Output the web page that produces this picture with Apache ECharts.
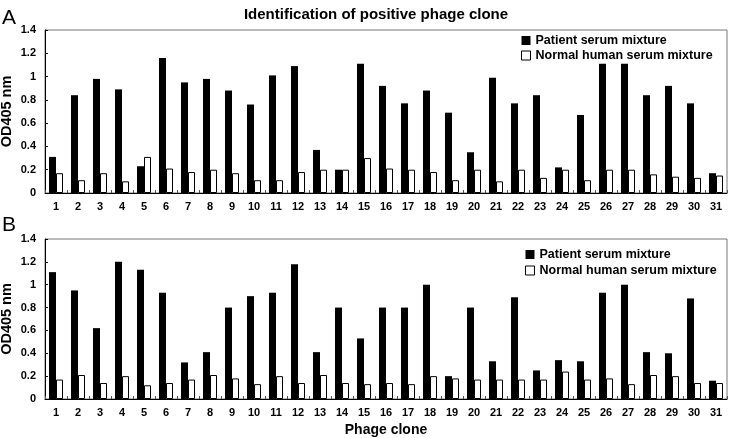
<!DOCTYPE html>
<html>
<head>
<meta charset="utf-8">
<script src="https://cdn.jsdelivr.net/npm/echarts@6/dist/echarts.min.js"></script>
<style>
html, body { margin: 0; padding: 0; background: #fff; }
#chart { width: 730px; height: 438px; }
</style>
</head>
<body>
<div id="chart"></div>
<script>
// 克隆编号
var clones = ['1','2','3','4','5','6','7','8','9','10','11','12','13','14','15','16','17','18','19','20','21','22','23','24','25','26','27','28','29','30','31'];

// panel A
var patientA = [0.31, 0.84, 0.98, 0.89, 0.23, 1.16, 0.95, 0.98, 0.88, 0.76, 1.01, 1.09, 0.37, 0.20, 1.11, 0.92, 0.77, 0.88, 0.69, 0.35, 0.99, 0.77, 0.84, 0.22, 0.67, 1.11, 1.11, 0.84, 0.92, 0.77, 0.17];
var normalA = [0.17, 0.11, 0.17, 0.10, 0.31, 0.21, 0.18, 0.20, 0.17, 0.11, 0.11, 0.18, 0.20, 0.20, 0.30, 0.21, 0.20, 0.18, 0.11, 0.20, 0.10, 0.20, 0.13, 0.20, 0.11, 0.20, 0.20, 0.16, 0.14, 0.13, 0.15];

// panel B
var patientB = [1.11, 0.95, 0.62, 1.20, 1.13, 0.93, 0.32, 0.41, 0.80, 0.90, 0.93, 1.18, 0.41, 0.80, 0.53, 0.80, 0.80, 1.00, 0.20, 0.80, 0.33, 0.89, 0.25, 0.34, 0.33, 0.93, 1.00, 0.41, 0.40, 0.88, 0.16];
var normalB = [0.17, 0.21, 0.14, 0.20, 0.12, 0.14, 0.17, 0.21, 0.18, 0.13, 0.20, 0.14, 0.21, 0.14, 0.13, 0.14, 0.13, 0.20, 0.18, 0.17, 0.17, 0.17, 0.17, 0.24, 0.17, 0.18, 0.13, 0.21, 0.20, 0.14, 0.14];

var yTicks = { min: 0, max: 1.4, interval: 0.2 };

var font = 'Liberation Sans, Arial, sans-serif';

function xAxisOf (grid, name) {
  return {
    type: 'category',
    gridIndex: grid,
    data: clones,
    name: name,
    nameLocation: 'middle',
    nameGap: 24,
    nameTextStyle: { fontFamily: font, fontWeight: 'bold', fontSize: 14, color: '#000' },
    axisLine: { lineStyle: { color: '#000', width: 1 } },
    axisTick: { show: true, inside: true, length: 3, lineStyle: { color: '#555' } },
    axisLabel: { fontFamily: font, fontWeight: 'bold', fontSize: 11, color: '#000', margin: 8, interval: 0 }
  }
}

function yAxisOf (grid) {
  return {
    type: 'value',
    gridIndex: grid,
    min: yTicks.min,
    max: yTicks.max,
    interval: yTicks.interval,
    name: 'OD405 nm',
    nameLocation: 'middle',
    nameGap: 31,
    nameMoveOverlap: false,
    nameRotate: 90,
    nameTextStyle: { fontFamily: font, fontWeight: 'bold', fontSize: 14.5, color: '#000' },
    axisLine: { show: true, lineStyle: { color: '#000', width: 1 } },
    axisTick: { show: true, inside: true, length: 3, lineStyle: { color: '#000' } },
    splitLine: { show: false },
    axisLabel: { fontFamily: font, fontWeight: 'bold', fontSize: 11, color: '#000', margin: 9 }
  }
}

function barSeries (name, axis, data, fill) {
  return {
    name: name,
    type: 'bar',
    xAxisIndex: axis,
    yAxisIndex: axis,
    data: data,
    barWidth: 7,
    barGap: '0%',
    itemStyle: { color: fill, borderColor: '#000', borderWidth: fill === '#fff' ? 1 : 0 }
  }
}

function legendOf (left, top, gap) {
  return {
    orient: 'vertical',
    left: left,
    top: top,
    padding: 0,
    itemWidth: 9,
    itemHeight: 9,
    itemGap: gap,
    icon: 'rect',
    textStyle: { fontFamily: font, fontWeight: 'bold', fontSize: 12.5, color: '#000' },
    data: [
      { name: 'Patient serum mixture', itemStyle: { color: '#000' } },
      { name: 'Normal human serum mixture', itemStyle: { color: '#fff', borderColor: '#000', borderWidth: 1 } }
    ]
  }
}

var chart = echarts.init(document.getElementById('chart'))
chart.setOption({
  animation: false,
  backgroundColor: '#fff',
  title: {
    text: 'Identification of positive phage clone',
    left: 371,
    textAlign: 'center',
    top: 2,
    textStyle: { fontFamily: font, fontWeight: 'bold', fontSize: 15, color: '#000' }
  },
  graphic: [
    { type: 'text', left: 2, top: 8, style: { text: 'A', fontFamily: font, fontSize: 21, fill: '#000' } },
    { type: 'text', left: 2, top: 215, style: { text: 'B', fontFamily: font, fontSize: 21, fill: '#000' } }
  ],
  legend: [legendOf(521, 34, 2), legendOf(525, 248, 3)],
  grid: [
    { left: 45, right: 3, top: 30, bottom: 245, show: true, borderColor: '#777', borderWidth: 1, outerBoundsMode: 'none', containLabel: false },
    { left: 45, right: 3, top: 239, bottom: 39, show: true, borderColor: '#777', borderWidth: 1, outerBoundsMode: 'none', containLabel: false }
  ],
  xAxis: [xAxisOf(0, ''), xAxisOf(1, 'Phage clone')],
  yAxis: [yAxisOf(0), yAxisOf(1)],
  series: [
    barSeries('Patient serum mixture', 0, patientA, '#000'),
    barSeries('Normal human serum mixture', 0, normalA, '#fff'),
    barSeries('Patient serum mixture', 1, patientB, '#000'),
    barSeries('Normal human serum mixture', 1, normalB, '#fff')
  ]
})
</script>
</body>
</html>
